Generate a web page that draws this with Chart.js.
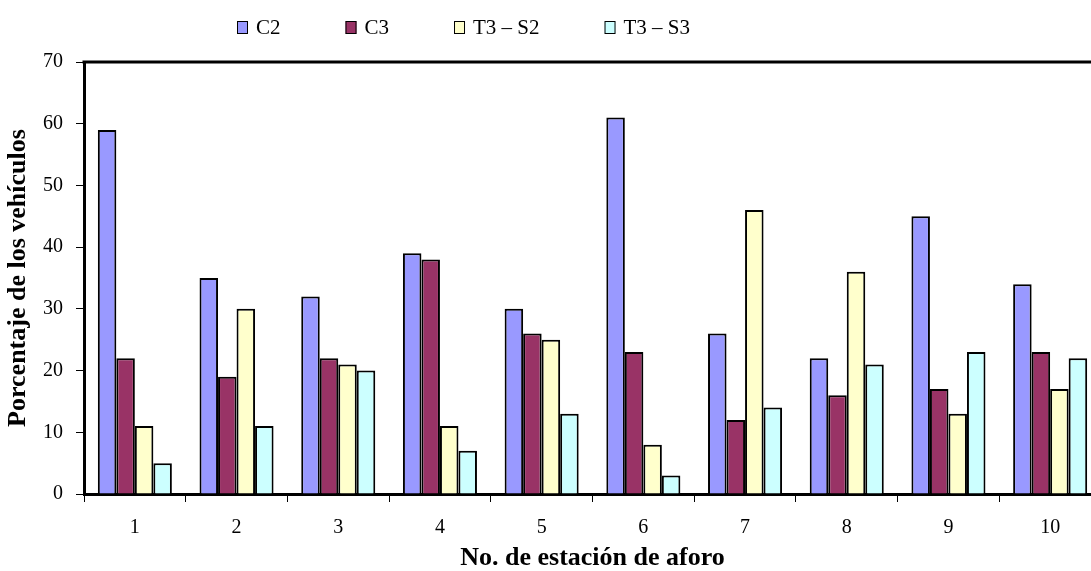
<!DOCTYPE html>
<html lang="es">
<head>
<meta charset="utf-8">
<title>Porcentaje de los vehículos por estación de aforo</title>
<script src="https://cdn.jsdelivr.net/npm/chart.js@4"></script>
<style>
  html, body { margin: 0; padding: 0; background: #fff; overflow: hidden; }
  #wrap { position: relative; width: 1102px; height: 571px; }
</style>
</head>
<body>
<div id="wrap"><canvas id="chart"></canvas></div>
<script>
// Estaciones de aforo
const stations = ['1', '2', '3', '4', '5', '6', '7', '8', '9', '10'];

// Porcentaje de vehículos por tipo
const c2   = [59, 35, 32, 39, 30, 61, 26, 22, 45, 34];
const c3   = [22, 19, 22, 38, 26, 23, 12, 16, 17, 23];
const t3s2 = [11, 30, 21, 11, 25,  8, 46, 36, 13, 17];
const t3s3 = [ 5, 11, 20,  7, 13,  3, 14, 21, 23, 22];

const seriesNames = ['C2', 'C3', 'T3 \u2013 S2', 'T3 \u2013 S3'];
const yTicks = [0, 10, 20, 30, 40, 50, 60, 70];

const FONT = '"Liberation Serif", "Times New Roman", serif';

// Legend row drawn across the top, entries laid out left to right
const topLegend = {
  id: 'topLegend',
  afterDraw(chart) {
    const ctx = chart.ctx;
    ctx.save();
    ctx.font = '21px ' + FONT;
    ctx.textBaseline = 'middle';
    ctx.textAlign = 'left';
    let x = 237;
    const cy = 27;
    chart.data.datasets.forEach(ds => {
      ctx.fillStyle = ds.backgroundColor;
      ctx.fillRect(x, cy - 6, 11, 13);
      ctx.strokeStyle = '#000';
      ctx.lineWidth = 1;
      ctx.strokeRect(x + 0.5, cy - 5.5, 10, 12);
      ctx.fillStyle = '#000';
      const tx = x + 19;
      ctx.fillText(ds.label, tx, cy + 1);
      x = tx + ctx.measureText(ds.label).width + 65;
    });
    ctx.restore();
  }
};

// Heavy frame line along the top of the plot area
const plotFrame = {
  id: 'plotFrame',
  afterDatasetsDraw(chart) {
    const { ctx, chartArea: a } = chart;
    ctx.save();
    ctx.strokeStyle = '#000';
    ctx.lineWidth = 3;
    ctx.beginPath();
    ctx.moveTo(a.left - 1.5, a.top);
    ctx.lineTo(a.right + 2, a.top);
    ctx.stroke();
    ctx.restore();
  }
};

const colors = ['#9999FF', '#993366', '#FFFFCC', '#CCFFFF'];
const values = [c2, c3, t3s2, t3s3];

new Chart(document.getElementById('chart'), {
  type: 'bar',
  data: {
    labels: stations,
    datasets: values.map((v, i) => ({
      label: seriesNames[i],
      data: v,
      backgroundColor: colors[i],
      borderColor: '#000',
      borderWidth: 2,
      categoryPercentage: 0.728,
      barPercentage: 1.0
    }))
  },
  options: {
    responsive: true,
    maintainAspectRatio: false,
    animation: false,
    layout: { padding: { top: 62, right: 1, bottom: 0, left: 0 } },
    plugins: {
      legend: { display: false },
      tooltip: { enabled: false }
    },
    scales: {
      x: {
        afterFit(s) { s.height = 77; },
        grid: {
          offset: true,
          drawOnChartArea: false,
          drawTicks: true,
          tickLength: 8,
          color: '#000',
          lineWidth: 1
        },
        border: { display: true, color: '#000', width: 3 },
        ticks: {
          color: '#000',
          padding: 14,
          font: { family: FONT, size: 20 },
          maxRotation: 0
        },
        title: {
          display: true,
          text: 'No. de estación de aforo',
          color: '#000',
          padding: { top: 0, bottom: 0 },
          font: { family: FONT, size: 26, weight: 'bold', lineHeight: 1 }
        }
      },
      y: {
        min: 0,
        max: 70,
        afterFit(s) { s.width = 84; },
        afterBuildTicks(s) { s.ticks = yTicks.map(v => ({ value: v })); },
        grid: {
          drawOnChartArea: false,
          drawTicks: true,
          tickLength: 8,
          color: '#000',
          lineWidth: 1
        },
        border: { display: true, color: '#000', width: 3 },
        ticks: {
          color: '#000',
          padding: 13,
          font: { family: FONT, size: 20 }
        },
        title: {
          display: true,
          text: 'Porcentaje de los vehículos',
          color: '#000',
          padding: { top: 5, bottom: 0 },
          font: { family: FONT, size: 26, weight: 'bold', lineHeight: 1 }
        }
      }
    }
  },
  plugins: [topLegend, plotFrame]
});
</script>
</body>
</html>
